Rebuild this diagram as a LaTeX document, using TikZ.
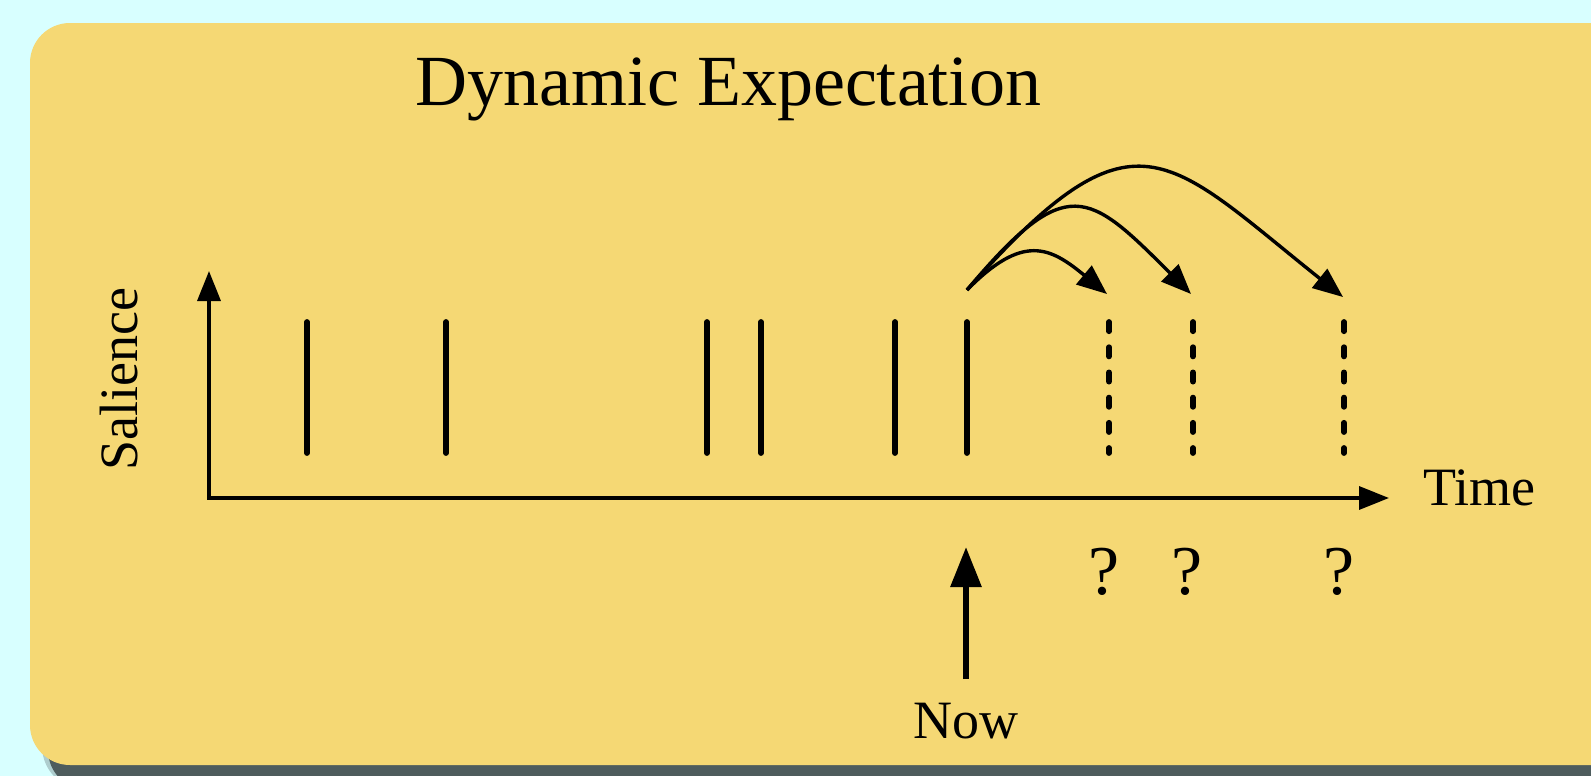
\documentclass[tikz,border=0pt]{standalone}
\usepackage{fontspec}
\setmainfont{Liberation Serif}
\usetikzlibrary{arrows.meta}
\definecolor{skybg}{HTML}{D8FFFF}
\definecolor{paper}{HTML}{F5D874}
\definecolor{cardshadow}{HTML}{4E5C5D}
\tikzset{
  beat/.style={line width=2.9pt, line cap=round},
  guess/.style={beat, dash pattern=on 4.6pt off 8pt},
  axes/.style={line width=1.7pt, {Triangle[length=15pt,width=11.5pt]}-{Triangle[length=15pt,width=11.5pt]}},
  hop/.style={line width=1.7pt, -{Triangle[length=15pt,width=12pt]}},
  pointer/.style={line width=3pt, -{Triangle[length=20pt,width=15pt]}},
  lbl/.style={font=\fontsize{27}{30}\selectfont, inner sep=0pt},
  qmark/.style={font=\fontsize{35}{40}\selectfont, inner sep=0pt, anchor=base},
}
\begin{document}
\begin{tikzpicture}[x=0.5pt, y=-0.5pt]
	\useasboundingbox (0,0) rectangle (1591,776);
	\clip (0,0) rectangle (1591,776);
	\fill[skybg] (0,0) rectangle (1591,776);
	% card with its shadow
	\fill[cardshadow, opacity=0.3, rounded corners=22pt] (42,400) rectangle (1660,790);
	\fill[cardshadow, rounded corners=20pt] (48,400) rectangle (1656,790);
	\fill[paper, rounded corners=20pt] (30,23) rectangle (1640,765);
	\node[font=\fontsize{36}{40}\selectfont, anchor=base, inner sep=0pt] (title) at (728,105) {Dynamic Expectation};
	% axes
	\coordinate (origin) at (209,498);
	\coordinate (ytip) at (209,271);
	\coordinate (xtip) at (1389,498);
	\draw[axes] (ytip) -- (origin) -- (xtip);
	\node[lbl, rotate=90, anchor=base] (salience) at (137,379) {Salience};
	\node[lbl, anchor=base west] (time) at (1423,505) {Time};
	% past onsets
	\draw[beat] (307,322) -- (307,453);
	\draw[beat] (446,322) -- (446,453);
	\draw[beat] (707,322) -- (707,453);
	\draw[beat] (761,322) -- (761,453);
	\draw[beat] (895,322) -- (895,453);
	\draw[beat] (967,322) -- (967,453);
	% expected onsets
	\draw[guess] (1109,322) -- (1109,453);
	\draw[guess] (1193,322) -- (1193,453);
	\draw[guess] (1344,322) -- (1344,453);
	\node[qmark] (qa) at (1104,594) {?};
	\node[qmark] (qb) at (1187,594) {?};
	\node[qmark] (qc) at (1339,594) {?};
	% projections
	\coordinate (src) at (967,290);
	\coordinate (qaend) at (1107,294);
	\coordinate (qbend) at (1191,294);
	\coordinate (qcend) at (1343,297);
	\draw[hop] (src) .. controls (1023,233) and (1050,247) .. (qaend);
	\draw[hop] (src) .. controls (1067,171) and (1088,191) .. (qbend);
	\draw[hop] (src) .. controls (1135,100) and (1165,155) .. (qcend);
	% now marker
	\node[lbl, anchor=base] (now) at (966,738) {Now};
	\coordinate (nowtip) at (966,547);
	\draw[pointer] ([yshift=11.5pt]now.north) -- (nowtip);
\end{tikzpicture}
\end{document}
